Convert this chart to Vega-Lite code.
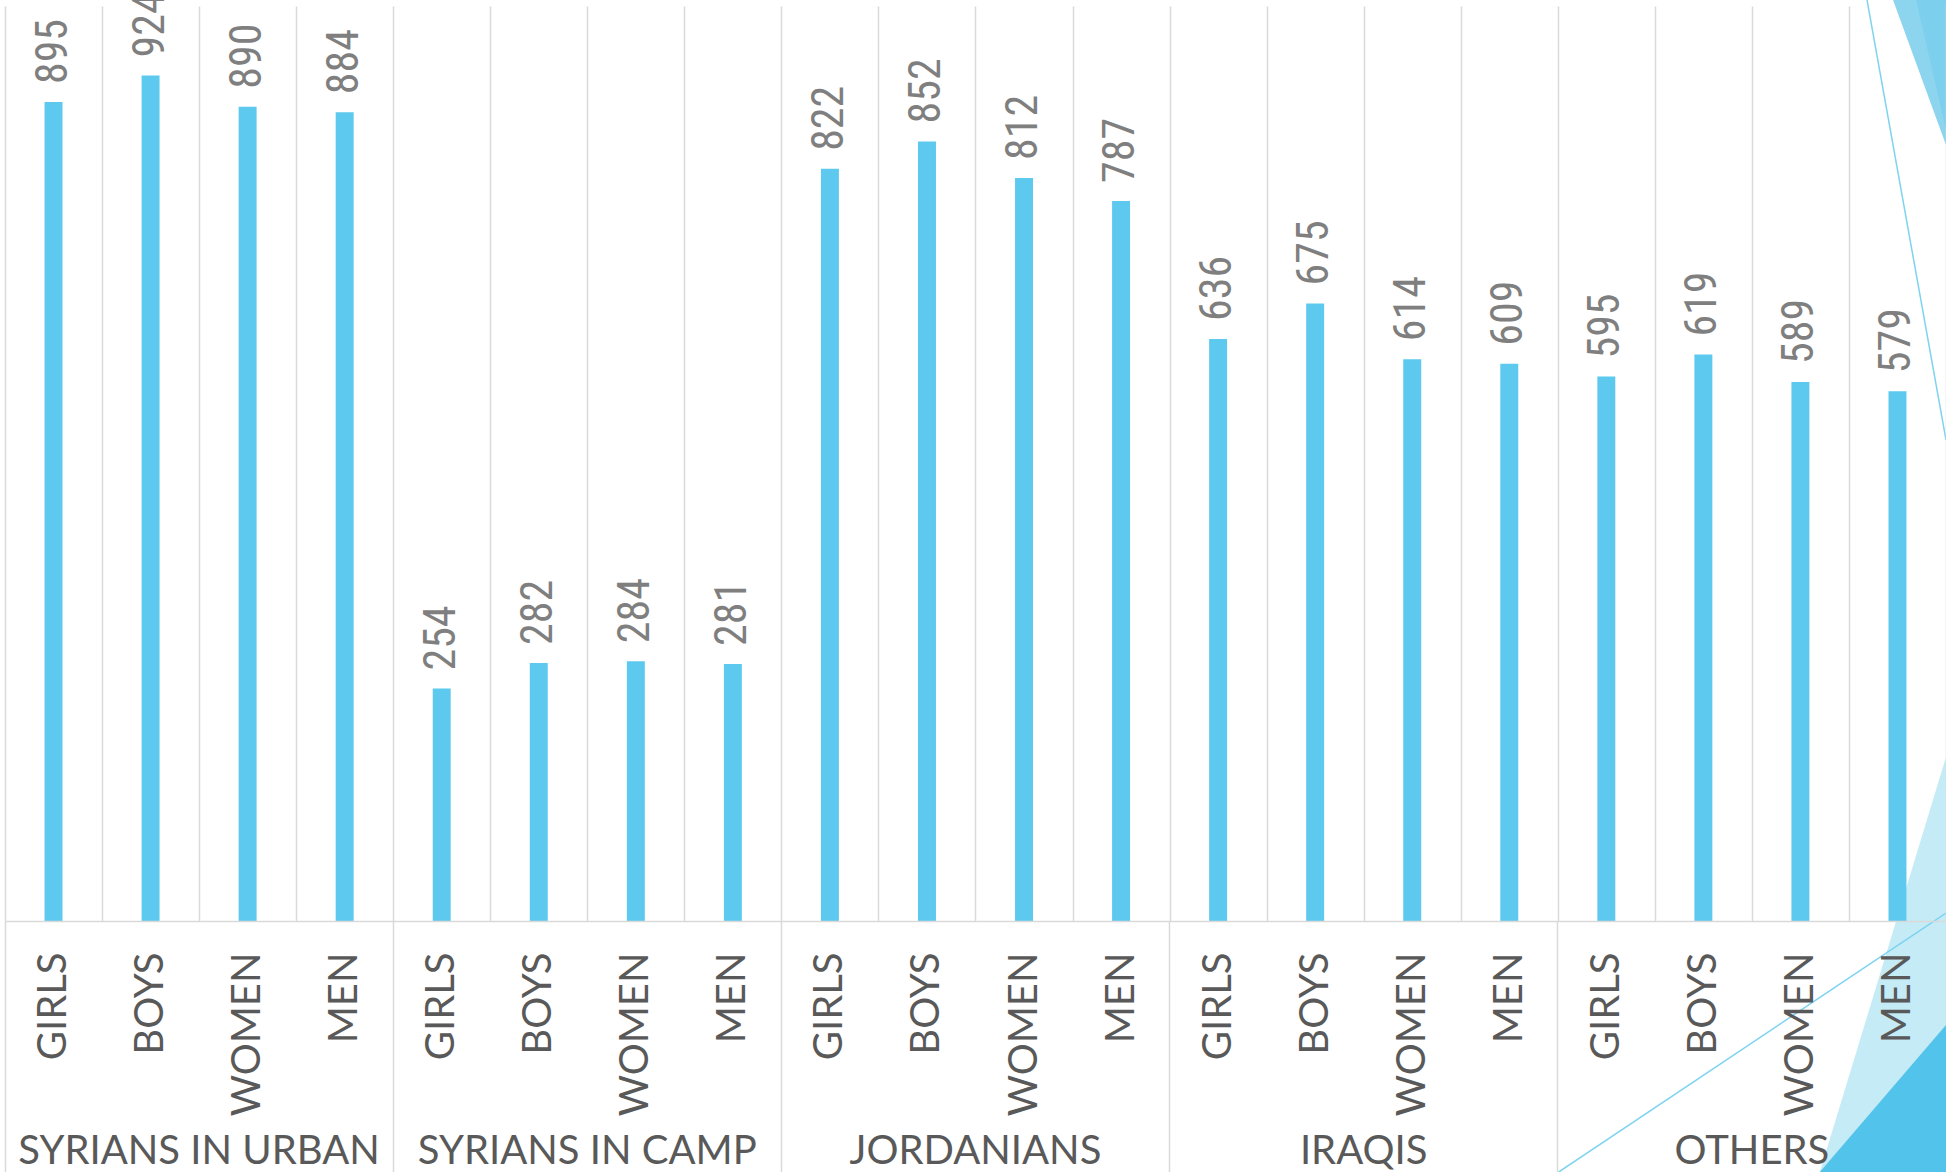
{
  "$schema": "https://vega.github.io/schema/vega-lite/v6.json",
  "width": 1941,
  "height": 915,
  "autosize": "none",
  "padding": {"left": 5, "top": 6, "right": 0, "bottom": 251},
  "background": "white",
  "config": {"view": {"stroke": null}},
  "datasets": {
    "bars": [
      {"key": "SYRIANS IN URBAN|GIRLS", "value": 895},
      {"key": "SYRIANS IN URBAN|BOYS", "value": 924},
      {"key": "SYRIANS IN URBAN|WOMEN", "value": 890},
      {"key": "SYRIANS IN URBAN|MEN", "value": 884},
      {"key": "SYRIANS IN CAMP|GIRLS", "value": 254},
      {"key": "SYRIANS IN CAMP|BOYS", "value": 282},
      {"key": "SYRIANS IN CAMP|WOMEN", "value": 284},
      {"key": "SYRIANS IN CAMP|MEN", "value": 281},
      {"key": "JORDANIANS|GIRLS", "value": 822},
      {"key": "JORDANIANS|BOYS", "value": 852},
      {"key": "JORDANIANS|WOMEN", "value": 812},
      {"key": "JORDANIANS|MEN", "value": 787},
      {"key": "IRAQIS|GIRLS", "value": 636},
      {"key": "IRAQIS|BOYS", "value": 675},
      {"key": "IRAQIS|WOMEN", "value": 614},
      {"key": "IRAQIS|MEN", "value": 609},
      {"key": "OTHERS|GIRLS", "value": 595},
      {"key": "OTHERS|BOYS", "value": 619},
      {"key": "OTHERS|WOMEN", "value": 589},
      {"key": "OTHERS|MEN", "value": 579}
    ],
    "decorShapes": [
      {"shape": "b1", "u": 18.70, "v": -274.3, "v2": -274.3},
      {"shape": "b1", "u": 20.0, "v": 179.2, "v2": -274.3},
      {"shape": "b2", "u": 18.70, "v": -274.3, "v2": -274.3},
      {"shape": "b2", "u": 20.0, "v": -113.7, "v2": -274.3},
      {"shape": "t1", "u": 19.454, "v": 1006.6, "v2": 1006.6},
      {"shape": "t1", "u": 20.0, "v": 1006.6, "v2": 848.1},
      {"shape": "t2", "u": 19.691, "v": 1006.6, "v2": 1006.6},
      {"shape": "t2", "u": 20.0, "v": 1006.6, "v2": 864.6}
    ],
    "decorLines": [
      {"shape": "l1", "u": 19.186, "v": 1006.6},
      {"shape": "l1", "u": 20.0, "v": 525.7},
      {"shape": "l2", "u": 16.01, "v": -274.3},
      {"shape": "l2", "u": 20.0, "v": 8.7}
    ]
  },
  "layer": [
    {
      "layer": [
        {
          "data": {"name": "decorShapes"},
          "mark": {"type": "area", "opacity": 1},
          "encoding": {
            "x": {"field": "u", "type": "quantitative", "scale": {"domain": [0, 20], "nice": false, "zero": false}, "axis": null},
            "y": {"field": "v", "type": "quantitative", "scale": {"domain": [0, 1000], "nice": false}, "axis": null},
            "y2": {"field": "v2"},
            "color": {"field": "shape", "type": "nominal", "legend": null,
                      "scale": {"domain": ["b1", "b2", "t1", "t2", "l1", "l2"], "range": ["#C5EBF7", "#52C3EA", "#8DD5EF", "#7DCFEE", "#7DD3F0", "#7DD3F0"]}}
          }
        },
        {
          "data": {"name": "decorLines"},
          "mark": {"type": "line", "strokeWidth": 1.5},
          "encoding": {
            "x": {"field": "u", "type": "quantitative", "axis": null},
            "y": {"field": "v", "type": "quantitative", "axis": null},
            "color": {"field": "shape", "type": "nominal", "legend": null}
          }
        }
      ]
    },
    {
      "data": {"name": "bars"},
      "layer": [
        {
          "mark": {"type": "bar", "color": "#5DC9EE", "width": {"band": 0.185}},
          "encoding": {
            "x": {
              "field": "key", "type": "nominal", "sort": null,
              "scale": {"paddingInner": 0, "paddingOuter": 0},
              "axis": {
                "orient": "bottom", "title": null, "zindex": 1,
                "labelExpr": "split(datum.label, '|')[1]",
                "labelAngle": -90, "labelAlign": "right", "labelBaseline": "middle",
                "labelPadding": 31, "ticks": false, "tickSize": 0,
                "grid": true, "tickBand": "extent", "gridColor": "#D9D9D9", "gridWidth": 1.5,
                "domain": true, "domainColor": "#D9D9D9", "domainWidth": 1.5,
                "labelFont": "Lato", "labelFontSize": 40, "labelColor": "#595959",
                "labelOverlap": false, "labelLimit": 1000, "labelBound": false, "labelFlush": false
              }
            },
            "y": {"field": "value", "type": "quantitative", "scale": {"domain": [0, 1000], "nice": false}, "axis": null}
          }
        },
        {
          "mark": {"type": "text", "angle": -90, "align": "left", "baseline": "middle", "dx": 18,
                   "font": "Liberation Sans Narrow, Arial Narrow, Roboto Condensed, sans-serif", "fontSize": 44, "color": "#7F7F7F"},
          "encoding": {
            "x": {
              "field": "key", "type": "nominal", "sort": null,
              "axis": {
                "orient": "bottom", "title": null, "zindex": 1,
                "values": ["SYRIANS IN URBAN|BOYS", "SYRIANS IN CAMP|BOYS", "JORDANIANS|BOYS", "IRAQIS|BOYS", "OTHERS|BOYS"],
                "labelOffset": 48.5,
                "labelExpr": "split(datum.label, '|')[0]",
                "labelAngle": 0, "labelAlign": "center", "labelBaseline": "alphabetic",
                "labelPadding": 242, "ticks": false, "tickSize": 0, "domain": false, "grid": false,
                "labelFont": "Lato", "labelFontSize": 40, "labelColor": "#595959",
                "labelOverlap": false, "labelLimit": 1000, "labelBound": false, "labelFlush": false
              }
            },
            "y": {"field": "value", "type": "quantitative", "axis": null},
            "text": {"field": "value", "type": "quantitative"}
          }
        },
        {
          "mark": {"type": "text", "text": ""},
          "encoding": {
            "x": {
              "field": "key", "type": "nominal", "sort": null,
              "axis": {
                "orient": "bottom", "title": null, "zindex": 1,
                "values": ["SYRIANS IN URBAN|GIRLS", "SYRIANS IN CAMP|GIRLS", "JORDANIANS|GIRLS", "IRAQIS|GIRLS", "OTHERS|GIRLS"],
                "bandPosition": 0,
                "labels": false, "domain": false, "grid": false,
                "ticks": true, "tickSize": 251, "tickColor": "#D9D9D9", "tickWidth": 1.5
              }
            },
            "y": {"field": "value", "type": "quantitative", "axis": null}
          }
        }
      ],
      "resolve": {"axis": {"x": "independent"}}
    }
  ],
  "resolve": {"scale": {"x": "independent", "y": "independent", "color": "independent"}, "axis": {"x": "independent"}}
}
